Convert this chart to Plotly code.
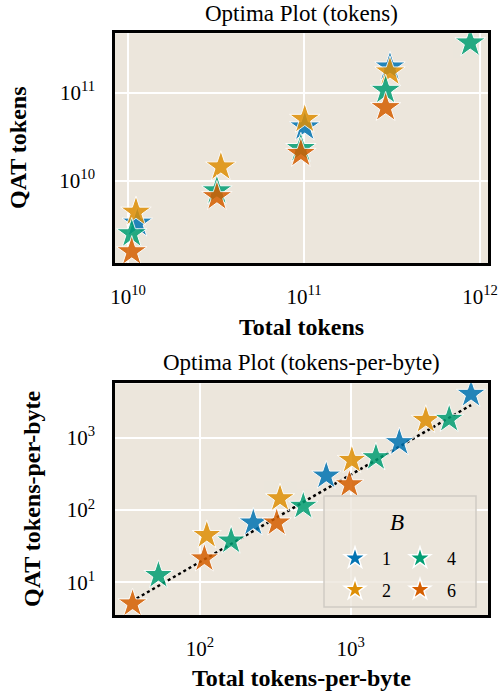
import plotly.graph_objects as go
from plotly.subplots import make_subplots

# B values and colours
b_values = ["1", "2", "4", "6"]
colors = {"1": "#0173B2", "2": "#DE8F05", "4": "#029E73", "6": "#D55E00"}

# top panel: total tokens vs QAT tokens
tok_total = {
    "1": [1.13e10, 1.01e11, 3.08e11],
    "2": [1.11e10, 3.37e10, 1.01e11, 3.08e11],
    "4": [1.05e10, 3.2e10, 9.6e10, 2.91e11, 8.8e11],
    "6": [1.05e10, 3.2e10, 9.6e10, 2.91e11],
}
tok_qat = {
    "1": [3.3e9, 4.1e10, 1.97e11],
    "2": [4.4e9, 1.44e10, 5.0e10, 1.73e11],
    "4": [2.5e9, 7.7e9, 2.33e10, 1.07e11, 3.7e11],
    "6": [1.56e9, 6.6e9, 2.05e10, 6.8e10],
}

# bottom panel: tokens-per-byte
tpb_total = {
    "1": [226, 689, 2104, 6295],
    "2": [111, 340, 1019, 3155],
    "4": [53, 161, 485, 1472, 4509],
    "6": [35.7, 107, 323, 981],
}
tpb_qat = {
    "1": [66.9, 298, 863, 4016],
    "2": [45, 145, 491, 1754],
    "4": [12.6, 37.7, 114, 535, 1811],
    "6": [5.1, 21.4, 67, 226],
}

# dotted fit line (end points)
fit_x = [38, 6300]
fit_y = [6.0, 2830]

# tick positions / labels
tok_x_ticks = [1e10, 1e11, 1e12]
tok_x_text = ["10<sup>10</sup>", "10<sup>11</sup>", "10<sup>12</sup>"]
tok_y_ticks = [1e10, 1e11]
tok_y_text = ["10<sup>10</sup>", "10<sup>11</sup>"]
tpb_x_ticks = [1e2, 1e3]
tpb_x_text = ["10<sup>2</sup>", "10<sup>3</sup>"]
tpb_y_ticks = [1e1, 1e2, 1e3]
tpb_y_text = ["10<sup>1</sup>", "10<sup>2</sup>", "10<sup>3</sup>"]

FONT = "Liberation Serif"
BG = "#ECE6DC"

fig = make_subplots(rows=2, cols=1)

for b in b_values:
    fig.add_trace(go.Scatter(x=tok_total[b], y=tok_qat[b], mode="markers", showlegend=False,
                             marker=dict(symbol="star", size=23, color=colors[b], opacity=0.85,
                                         line=dict(color="white", width=1))), row=1, col=1)

fig.add_trace(go.Scatter(x=fit_x, y=fit_y, mode="lines", showlegend=False,
                         line=dict(color="black", width=2.5, dash="dot")), row=2, col=1)

for b in b_values:
    fig.add_trace(go.Scatter(x=tpb_total[b], y=tpb_qat[b], mode="markers", showlegend=False,
                             marker=dict(symbol="star", size=22, color=colors[b], opacity=0.85,
                                         line=dict(color="white", width=1))), row=2, col=1)

# legend entries: two columns (1, 2) and (4, 6)
for i, b in enumerate(b_values):
    fig.add_trace(go.Scatter(x=[None], y=[None], mode="markers", name=b,
                             legend="legend" if i < 2 else "legend2", legendgroup=b,
                             marker=dict(symbol="star", size=16, color=colors[b],
                                         line=dict(color="white", width=1.5))), row=2, col=1)

axis_style = dict(type="log", showgrid=True, gridcolor="white", gridwidth=1.5, zeroline=False,
                  showline=True, linecolor="black", linewidth=2.5, mirror=True, automargin=False,
                  tickmode="array", ticks="outside", ticklen=13, tickcolor="rgba(0,0,0,0)",
                  tickfont=dict(family=FONT, size=21, color="black"))

fig.update_xaxes(**axis_style)
fig.update_yaxes(**axis_style)
fig.update_xaxes(domain=[0.2286, 0.970], range=[9.926, 12.045],
                 tickvals=tok_x_ticks, ticktext=tok_x_text, row=1, col=1)
fig.update_yaxes(domain=[0.620, 0.952], range=[9.065, 11.678],
                 tickvals=tok_y_ticks, ticktext=tok_y_text, row=1, col=1)
fig.update_xaxes(domain=[0.2286, 0.970], range=[1.436, 3.911],
                 tickvals=tpb_x_ticks, ticktext=tpb_x_text, row=2, col=1)
fig.update_yaxes(domain=[0.111, 0.446], range=[0.548, 3.752],
                 tickvals=tpb_y_ticks, ticktext=tpb_y_text, row=2, col=1)

ann = [
    dict(text="Optima Plot (tokens)", x=0.599, y=1 - 14 / 692, font=dict(size=23)),
    dict(text="Optima Plot (tokens-per-byte)", x=0.599, y=1 - 363 / 692, font=dict(size=23)),
    dict(text="<b>Total tokens</b>", x=0.599, y=1 - 327 / 692, font=dict(size=24)),
    dict(text="<b>Total tokens-per-byte</b>", x=0.599, y=1 - 678 / 692, font=dict(size=24)),
    dict(text="<b>QAT tokens</b>", x=18 / 503, y=1 - 148 / 692, textangle=-90, font=dict(size=24)),
    dict(text="<b>QAT tokens-per-byte</b>", x=32 / 503, y=1 - 499 / 692, textangle=-90, font=dict(size=24)),
    dict(text="<i>B</i>", x=397 / 503, y=1 - 522 / 692, font=dict(size=23)),
]
for a in ann:
    a.update(xref="paper", yref="paper", showarrow=False, xanchor="center", yanchor="middle")
    a["font"].update(family=FONT, color="black")

legend_style = dict(xanchor="left", yanchor="top", bgcolor="rgba(0,0,0,0)", borderwidth=0,
                    itemwidth=44, tracegroupgap=5, font=dict(family=FONT, size=18))

fig.update_layout(
    width=503, height=692, margin=dict(l=0, r=0, t=0, b=0),
    paper_bgcolor="white", plot_bgcolor=BG,
    font=dict(family=FONT, color="black"),
    annotations=ann,
    shapes=[dict(type="rect", xref="paper", yref="paper", layer="above",
                 x0=324 / 503, x1=476 / 503, y0=1 - 607 / 692, y1=1 - 496 / 692,
                 fillcolor="rgba(236,230,220,0.8)", line=dict(color="#CFCBC4", width=1.5))],
    legend=dict(x=328 / 503, y=1 - 540 / 692, **legend_style),
    legend2=dict(x=393 / 503, y=1 - 540 / 692, **legend_style),
)

# drop the default page margin so the figure sits at the window's corner
fig.write_html("out.html", config={"displayModeBar": False},
               post_script="document.body.style.margin='0';")
